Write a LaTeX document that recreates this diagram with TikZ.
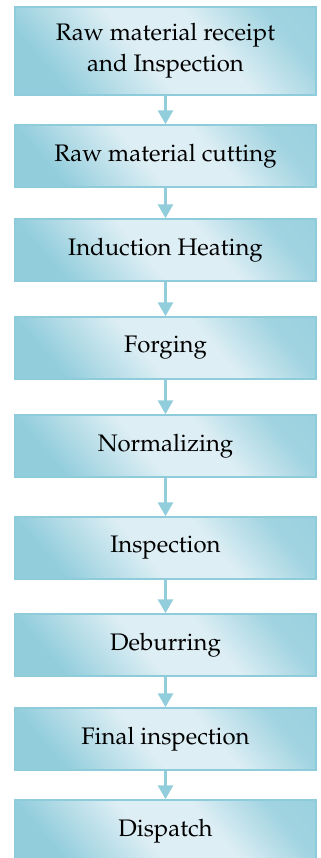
\documentclass[tikz,border=0pt]{standalone}
\usepackage[T1]{fontenc}
\usepackage{mathpazo}
\usetikzlibrary{arrows.meta}

\definecolor{boxdark}{HTML}{92CDDC}
\definecolor{boxlight}{HTML}{DDEEF4}
\definecolor{boxedge}{HTML}{8FCCDB}
\definecolor{linkblue}{HTML}{92CDDC}

\pgfdeclareverticalshading{boxshade}{100bp}{color(0bp)=(boxdark);
  color(25bp)=(boxdark); color(45bp)=(boxlight); color(60bp)=(boxlight);
  color(75bp)=(boxdark!80!boxlight); color(100bp)=(boxdark)}

\tikzset{
  stepbox/.style={draw=boxedge, line width=1.5bp, minimum width=301bp,
    minimum height=62bp, inner sep=0pt, align=center,
    shading=boxshade, shading angle=-50, font=\fontsize{24}{31}\selectfont},
  link/.style={draw=linkblue, line width=3bp, -{Triangle[width=15bp,length=14bp]}}
}

\begin{document}
\begin{tikzpicture}[x=1bp, y=-1bp]
  \clip (0,0) rectangle (320,858);

  \node[stepbox, minimum height=88bp] (raw) at (165.5,51) {Raw material receipt\\and Inspection};
  \node[stepbox] (cut) at (165.5,156) {Raw material cutting};
  \node[stepbox] (heat) at (165.5,250) {Induction Heating};
  \node[stepbox] (forge) at (165.5,348) {Forging};
  \node[stepbox] (norm) at (165.5,446) {Normalizing};
  \node[stepbox] (insp) at (165.5,548) {Inspection};
  \node[stepbox] (debur) at (165.5,645) {Deburring};
  \node[stepbox] (final) at (165.5,739) {Final inspection};
  \node[stepbox] (dispatch) at (165.5,831) {Dispatch};

  \draw[link] (raw) -- (cut);
  \draw[link] (cut) -- (heat);
  \draw[link] (heat) -- (forge);
  \draw[link] (forge) -- (norm);
  \draw[link] (norm) -- (insp);
  \draw[link] (insp) -- (debur);
  \draw[link] (debur) -- (final);
  \draw[link] (final) -- (dispatch);
\end{tikzpicture}
\end{document}
